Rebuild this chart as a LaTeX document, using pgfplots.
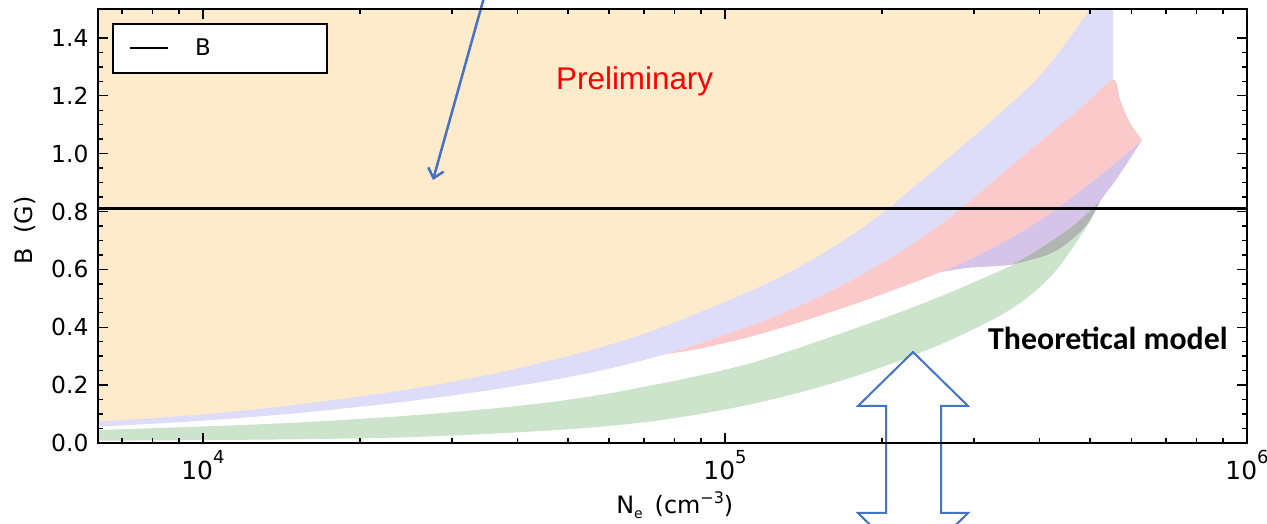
\documentclass[border=0pt]{standalone}
\usepackage{fontspec}
\setmainfont{DejaVu Sans}
\newfontfamily\arialfont{Liberation Sans}
\newfontfamily\calibrifont{Carlito}
\usepackage{pgfplots}
\pgfplotsset{compat=1.18}
\usepgfplotslibrary{fillbetween}
\usetikzlibrary{arrows.meta}
\definecolor{orangeC}{HTML}{FDEBCB}
\definecolor{blueC}{HTML}{DDDDFA}
\definecolor{redC}{HTML}{FBC9C9}
\definecolor{purpleC}{HTML}{D6C4E8}
\definecolor{greenC}{HTML}{CCE4CC}
\definecolor{grayC}{HTML}{B2B6B2}
\definecolor{annBlue}{HTML}{4472C4}
\newcommand{\supx}[1]{\raisebox{16bp}{\fontsize{18}{21}\selectfont #1}}
\begin{document}
\begin{tikzpicture}
\begin{axis}[
  at={(98bp,81bp)}, anchor=south west,
  width=1149bp, height=434bp, scale only axis,
  xmode=log, xmin=6295, xmax=1e6, ymin=0, ymax=1.5,
  axis on top,
  xtick={1e4,1e5,1e6},
  xticklabels={10\supx{4},10\supx{5},10\supx{6}},
  minor xtick={7000,8000,9000,20000,30000,40000,50000,60000,70000,80000,90000,200000,300000,400000,500000,600000,700000,800000,900000},
  ytick={0,0.2,0.4,0.6,0.8,1.0,1.2,1.4},
  minor y tick num=3,
  yticklabel style={/pgf/number format/.cd,fixed,fixed zerofill,precision=1,assume math mode=true,/tikz/.cd, xshift=-6bp},
  xticklabel style={font=\fontsize{25}{30}\selectfont, yshift=-4bp},
  yticklabel style={font=\fontsize{23.5}{28}\selectfont},
  label style={font=\fontsize{24}{29}\selectfont},
  major tick length=10bp, minor tick length=5bp,
  tick style={line width=1.4bp, black},
  axis line style={line width=2bp},
  xlabel={N\raisebox{-5bp}{\fontsize{14}{16}\selectfont e}\hspace{0.5em}(cm\raisebox{10bp}{\fontsize{16}{18}\selectfont −3})},
  ylabel={B\hspace{0.6em}(G)},
  xlabel style={at={(axis description cs:0.502,-0.143)}, anchor=center},
  ylabel style={at={(axis description cs:-0.0635,0.49)}, anchor=center},
  legend style={at={(rel axis cs:0,1)}, anchor=north west, xshift=14bp, yshift=-14bp,
    draw=black, line width=1.6bp, fill=white, inner sep=0pt, nodes={inner sep=0pt},
    font=\fontsize{23}{27}\selectfont,
    /tikz/every odd column/.append style={column sep=26bp}},
  legend image code/.code={\path[draw=none,fill=none] (0bp,-24.5bp) rectangle (55bp,24.5bp); \draw[black, line width=2.4bp] (17bp,0bp) -- (55bp,0bp);},
]
% ---- boundary curves ----
\addplot[draw=none, smooth, name path=Bcurve, forget plot] coordinates {
(6200,0.055) (6300,0.056) (10000,0.077) (15341,0.104) (23636,0.14) (33944,0.178)
(45805,0.215) (57608,0.25) (71820,0.292) (88800,0.342) (111660,0.405) (139200,0.475)
(173600,0.56) (216400,0.66) (269800,0.78) (336400,0.925) (419500,1.07) (485100,1.165)
(553700,1.255)};
\addplot[draw=none, name path=BlueTop, forget plot] coordinates {
(6200,1.6) (553700,1.6) (553700,1.255)};
\addplot[draw=none, smooth, name path=Acurve, forget plot] coordinates {
(6200,0.072) (6300,0.074) (10000,0.099) (15341,0.134) (23636,0.18) (33944,0.23)
(45805,0.283) (57608,0.33) (71820,0.385) (88800,0.45) (111660,0.525) (139200,0.61)
(173600,0.715) (205300,0.81) (216400,0.845) (269800,0.99) (321900,1.11) (401300,1.27)
(478700,1.45) (522800,1.56)};
\addplot[draw=none, name path=OrangeTop, forget plot] coordinates {
(6200,1.6) (522800,1.6)};
\addplot[draw=none, smooth, name path=RedTop, forget plot] coordinates {
(76770,0.307) (88800,0.342) (111660,0.405) (139200,0.475) (173600,0.56) (216400,0.66)
(269800,0.78) (336400,0.925) (419500,1.07) (485100,1.165) (553700,1.255)
(571100,1.186) (596800,1.106) (629500,1.047)};
\addplot[draw=none, smooth, name path=RedBot, forget plot] coordinates {
(76770,0.307) (88800,0.325) (111660,0.367) (139200,0.418) (173600,0.475) (216400,0.537)
(258200,0.59) (290800,0.63) (362600,0.72) (432500,0.81) (522800,0.925)
(596800,1.01) (629500,1.047)};
\addplot[draw=none, smooth, name path=PurTop, forget plot] coordinates {
(258200,0.59) (290800,0.63) (362600,0.72) (432500,0.81) (522800,0.925)
(596800,1.01) (629500,1.047)};
\addplot[draw=none, smooth, name path=PurBot, forget plot] coordinates {
(258200,0.59) (290800,0.605) (356200,0.617) (414000,0.65) (452000,0.69)
(493700,0.755) (522800,0.835) (563600,0.915) (629500,1.047)};
\addplot[draw=none, smooth, name path=GreenTop, forget plot] coordinates {
(6200,0.045) (6300,0.045) (10000,0.057) (15341,0.071) (23636,0.092) (33944,0.115)
(45805,0.14) (57608,0.166) (71820,0.198) (88800,0.232) (111660,0.275) (139200,0.33)
(173600,0.39) (216400,0.452) (269800,0.52) (336400,0.595) (356200,0.617) (401300,0.672)
(452000,0.735) (485100,0.78) (522800,0.835)};
\addplot[draw=none, smooth, name path=GreenBot, forget plot] coordinates {
(6200,0.008) (6300,0.008) (10000,0.01) (15341,0.013) (23636,0.019) (33944,0.03)
(45805,0.043) (57608,0.056) (71820,0.074) (88800,0.099) (111660,0.133) (139200,0.175)
(173600,0.225) (216400,0.285) (269800,0.355) (336400,0.44) (384000,0.51) (432500,0.6)
(493700,0.75) (522800,0.835)};
\addplot[draw=none, smooth, name path=GrayTop, forget plot] coordinates {
(356200,0.617) (401300,0.672) (452000,0.735) (485100,0.78) (522800,0.835)};
\addplot[draw=none, smooth, name path=GrayBot, forget plot] coordinates {
(356200,0.617) (414000,0.65) (452000,0.69) (493700,0.755) (522800,0.835)};
% ---- fills ----
\addplot[fill=blueC, draw=none, forget plot] fill between[of=Bcurve and BlueTop];
\addplot[fill=orangeC, draw=none, forget plot] fill between[of=Acurve and OrangeTop];
\addplot[fill=redC, draw=none, forget plot] fill between[of=RedTop and RedBot];
\addplot[fill=purpleC, draw=none, forget plot] fill between[of=PurTop and PurBot];
\addplot[fill=greenC, draw=none, forget plot] fill between[of=GreenTop and GreenBot];
\addplot[fill=grayC, draw=none, forget plot] fill between[of=GrayTop and GrayBot];
% B line
\addplot[black, line width=3.5bp] coordinates {(6000,0.81) (1100000,0.81)};
\addlegendentry{\makebox[132bp][l]{B}}
\end{axis}
\node[anchor=base west, inner sep=0pt, text=red] at (556bp,434bp) {\arialfont\fontsize{31.5}{36}\selectfont Preliminary};
\node[anchor=base west, inner sep=0pt] at (988bp,174bp) {\calibrifont\bfseries\fontsize{32}{38}\selectfont Theoretical model};
\draw[annBlue, line width=2.5bp, -{Straight Barb[length=9bp,width=16bp]}] (484.4bp,528bp) -- (433bp,344bp);
\draw[annBlue, line width=2bp, line join=miter] (913bp,172bp) -- (968bp,118bp) -- (941bp,118bp) -- (941bp,11bp) -- (968bp,11bp) -- (913bp,-43bp) -- (858bp,11bp) -- (886bp,11bp) -- (886bp,118bp) -- (858bp,118bp) -- cycle;
\pgfresetboundingbox
\path[use as bounding box] (0bp,0bp) rectangle (1267bp,524bp);
\end{tikzpicture}
\end{document}
